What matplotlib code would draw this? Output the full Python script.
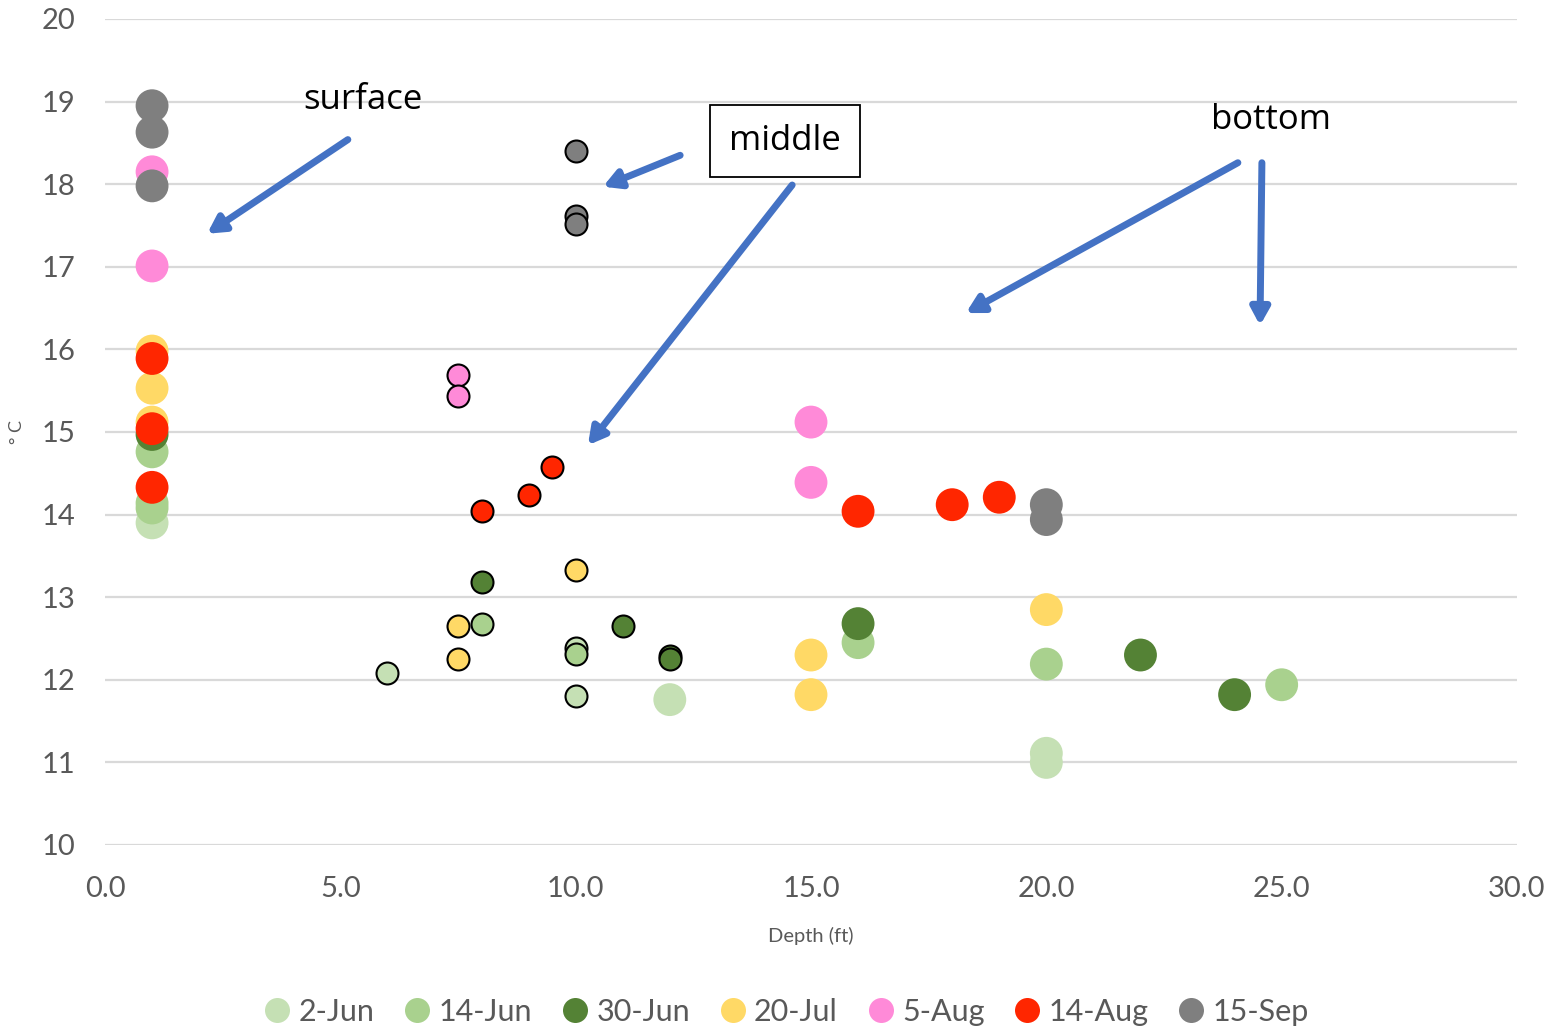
import matplotlib
matplotlib.use("Agg")
import matplotlib.pyplot as plt

series_names = ["2-Jun", "14-Jun", "30-Jun", "20-Jul", "5-Aug", "14-Aug", "15-Sep"]
colors = ["#C5E0B4", "#A9D18E", "#548235", "#FFD966", "#FF8AD8", "#FF2600", "#7F7F7F"]

# surface (depth 1 ft)
surface_x = {
    "2-Jun": [1], "14-Jun": [1, 1, 1], "30-Jun": [1], "20-Jul": [1, 1, 1],
    "5-Aug": [1, 1], "14-Aug": [1, 1, 1], "15-Sep": [1, 1, 1],
}
surface_y = {
    "2-Jun": [13.9], "14-Jun": [14.76, 14.14, 14.08], "30-Jun": [14.97],
    "20-Jul": [15.98, 15.53, 15.12], "5-Aug": [18.15, 17.01],
    "14-Aug": [15.89, 15.04, 14.33], "15-Sep": [18.95, 18.63, 17.98],
}
# middle depths
middle_x = {
    "2-Jun": [6, 10, 10], "14-Jun": [8, 10], "30-Jun": [8, 11, 12, 12],
    "20-Jul": [7.5, 7.5, 10], "5-Aug": [7.5, 7.5], "14-Aug": [8, 9, 9.5],
    "15-Sep": [10, 10, 10],
}
middle_y = {
    "2-Jun": [12.08, 12.38, 11.8], "14-Jun": [12.68, 12.31],
    "30-Jun": [13.19, 12.65, 12.29, 12.25], "20-Jul": [12.65, 12.25, 13.33],
    "5-Aug": [15.69, 15.44], "14-Aug": [14.04, 14.24, 14.58],
    "15-Sep": [18.4, 17.61, 17.52],
}
# bottom depths
bottom_x = {
    "2-Jun": [12, 20, 20], "14-Jun": [16, 20, 25], "30-Jun": [16, 22, 24],
    "20-Jul": [15, 15, 20], "5-Aug": [15, 15], "14-Aug": [16, 18, 19],
    "15-Sep": [20, 20],
}
bottom_y = {
    "2-Jun": [11.76, 11.11, 11.0], "14-Jun": [12.45, 12.19, 11.94],
    "30-Jun": [12.68, 12.3, 11.82], "20-Jul": [12.3, 11.82, 12.85],
    "5-Aug": [15.12, 14.39], "14-Aug": [14.04, 14.12, 14.21],
    "15-Sep": [14.12, 13.94],
}

x_ticks = [0, 5, 10, 15, 20, 25, 30]
y_ticks = [10, 11, 12, 13, 14, 15, 16, 17, 18, 19, 20]

plt.rcParams["font.family"] = ["Lato", "DejaVu Sans"]
fig = plt.figure(figsize=(15.62, 10.35), dpi=100)
ax = fig.add_axes([105/1562, 1-845/1035, (1517-105)/1562, (845-19)/1035])

big = 560
small = 250
for name, c in zip(series_names, colors):
    ax.scatter(surface_x[name], surface_y[name], s=big, color=c, edgecolors="none", zorder=3)
    ax.scatter(bottom_x[name], bottom_y[name], s=big, color=c, edgecolors="none", zorder=3)
    ax.scatter(middle_x[name], middle_y[name], s=small, color=c, edgecolors="black",
               linewidths=1.5, zorder=3)

ax.set_xlim(0, 30)
ax.set_ylim(10, 20)
ax.set_xticks(x_ticks)
ax.set_xticklabels([f"{v:.1f}" for v in x_ticks])
ax.set_yticks(y_ticks)
ax.grid(axis="y", color="#D9D9D9", linewidth=1.6, zorder=0)
ax.set_axisbelow(True)
for s in ax.spines.values():
    s.set_visible(False)
ax.tick_params(length=0, labelsize=21, labelcolor="#595959")
ax.tick_params(axis="x", pad=22)
ax.tick_params(axis="y", pad=21)
ax.set_xlabel("Depth (ft)", fontsize=14.5, color="#595959", labelpad=18)
ax.set_ylabel("° C", fontsize=13, color="#595959", labelpad=12)

arrow_kw = dict(arrowstyle="-|>,head_length=1.0,head_width=0.55", color="#4472C4", lw=5,
                shrinkA=0, shrinkB=0)

def arrow(x0, y0, x1, y1):
    ax.annotate("", xy=(x1, y1), xytext=(x0, y0), arrowprops=arrow_kw, zorder=5)

ann_font = ["Open Sans", "DejaVu Sans"]
ax.text(5.49, 19.02, "surface", fontsize=25, ha="center", va="center", color="black",
        family=ann_font)
arrow(5.16, 18.54, 2.17, 17.40)

ax.text(14.45, 18.52, "middle", fontsize=25, ha="center", va="center", color="black",
        family=ann_font,
        bbox=dict(boxstyle="square,pad=0.55", facecolor="white", edgecolor="black", lw=1.3))
arrow(12.22, 18.35, 10.58, 17.97)
arrow(14.6, 17.99, 10.26, 14.84)

ax.text(24.77, 18.78, "bottom", fontsize=25, ha="center", va="center", color="black",
        family=ann_font)
arrow(24.07, 18.26, 18.29, 16.44)
arrow(24.58, 18.26, 24.54, 16.29)

handles = [plt.Line2D([], [], marker="o", linestyle="none", markersize=18,
                      markerfacecolor=c, markeredgecolor="none") for c in colors]
fig.legend(handles, series_names, loc="center", bbox_to_anchor=(0.5, 1-1012/1035),
           ncol=7, frameon=False, handletextpad=-0.1, columnspacing=0.6,
           handlelength=1.6,
           prop={"family": ["Lato", "DejaVu Sans"], "size": 22},
           labelcolor="#595959")

fig.savefig("out.png", dpi=100)
